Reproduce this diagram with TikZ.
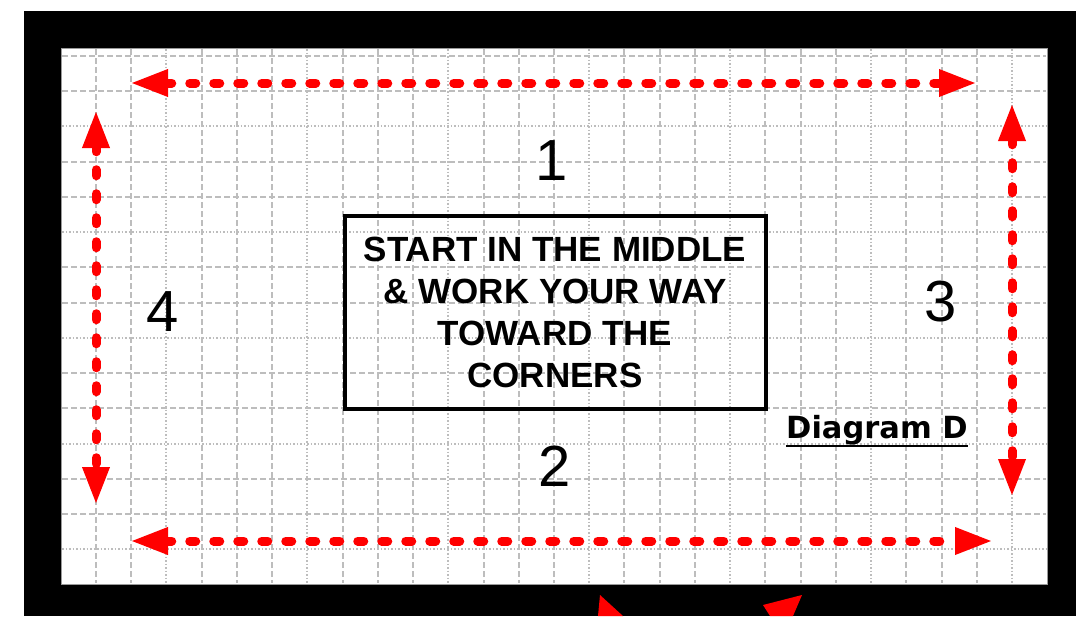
\documentclass[tikz,border=0pt]{standalone}
\usepackage{fontspec}
\setmainfont{Liberation Sans}
\newfontfamily\widesans{DejaVu Sans}
\usetikzlibrary{positioning,arrows.meta}
\definecolor{GridGrey}{HTML}{BDBDBD}
\definecolor{EdgeGrey}{HTML}{9A9A9A}
\definecolor{PathRed}{HTML}{FF0000}
\tikzset{
  gridline/.style={GridGrey, line width=2pt, dash pattern=on 6pt off 3pt},
  gridfine/.style={GridGrey, line width=2pt, dash pattern=on 1.5pt off 2pt},
  sweep/.style={{Triangle[length=38pt,width=25pt]}-{Triangle[length=38pt,width=25pt]},
                PathRed, line width=9pt, line cap=round, dash pattern=on 6pt off 18pt},
  bigdigit/.style={inner sep=0pt, font=\fontsize{58}{58}\selectfont},
  notebox/.style={draw=black, line width=4pt, minimum width=421pt, minimum height=193pt,
                  align=center, inner sep=0pt, font=\fontsize{35}{42}\selectfont\bfseries},
}

\begin{document}
\begin{tikzpicture}[x=1pt, y=-1pt]
  \useasboundingbox (0,0) rectangle (1076,616);
  \fill[black] (24,11) rectangle (1076,616);
  \draw[EdgeGrey, fill=white, line width=1pt] (61,48) rectangle (1047,584);
  \foreach \k in {0,...,26} {
    \pgfmathtruncatemacro{\r}{mod(\k,4)}
    \ifnum\r=2
      \draw[gridfine] ({96+35.23*\k},49) -- ({96+35.23*\k},583);
    \else
      \draw[gridline] ({96+35.23*\k},49) -- ({96+35.23*\k},583);
    \fi
  }
  \foreach \k in {0,...,14} {
    \pgfmathtruncatemacro{\r}{mod(\k,3)}
    \ifnum\r=2
      \draw[gridfine] (62,{56+35.23*\k}) -- (1046,{56+35.23*\k});
    \else
      \draw[gridline] (62,{56+35.23*\k}) -- (1046,{56+35.23*\k});
    \fi
  }

  \coordinate (topL) at (130,83);
  \coordinate (topR) at (977,83);
  \coordinate (botL) at (130,541);
  \coordinate (botR) at (993,541);
  \coordinate (lftT) at (96,110);
  \coordinate (lftB) at (96,505);
  \coordinate (rgtT) at (1012,103);
  \coordinate (rgtB) at (1012,497);
  \draw[sweep] (topL) -- (topR);
  \draw[sweep] (botL) -- (botR);
  \draw[sweep] (lftT) -- (lftB);
  \draw[sweep] (rgtT) -- (rgtB);

  \node[notebox] (note) at (555,312)
    {START IN THE MIDDLE\\\& WORK YOUR WAY\\TOWARD THE\\CORNERS};

  \node[bigdigit] (one) at (552,161) {1};
  \node[bigdigit] (two) at (555,466) {2};
  \node[bigdigit] (three) at (941,302) {3};
  \node[bigdigit] (four) at (163,312) {4};

  \node[anchor=base west, inner sep=0pt, font=\widesans\fontsize{30.5}{30.5}\selectfont\bfseries] (diag) at (786,438) {Diagram D};
  \draw[line width=2pt] ([yshift=-1pt]diag.south west) -- ([yshift=-1pt]diag.south east);

  \fill[PathRed] (600,595) -- (623,616) -- (598,616) -- cycle;
  \fill[PathRed] (802,595) -- (793,616) -- (770,616) -- (763,605) -- cycle;
\end{tikzpicture}
\end{document}
